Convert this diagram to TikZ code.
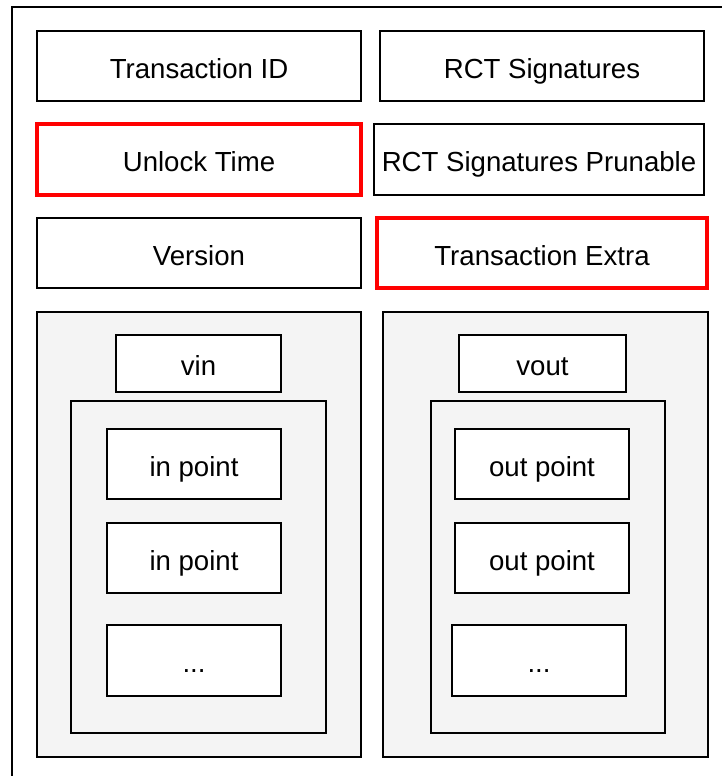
\documentclass[tikz,border=0pt]{standalone}
\usepackage{fontspec}
\setmainfont{Liberation Sans}
\definecolor{groupgray}{HTML}{F4F4F4}
\definecolor{alertred}{HTML}{FF0000}
\tikzset{
  field/.style={draw=black, line width=2pt, fill=white, rectangle, inner sep=0pt,
    outer sep=0pt, anchor=north west, align=center,
    font=\fontsize{27.6}{32}\selectfont, text height=26pt, text depth=2pt},
  flagged/.style={field, draw=alertred, line width=3.2pt},
  group/.style={draw=black, line width=2pt, fill=groupgray, rectangle,
    inner sep=0pt, outer sep=0pt, anchor=north west}
}
\begin{document}
\begin{tikzpicture}[x=1pt, y=-1pt]
  \fill[white] (0,0) rectangle (722,776);
  \clip (0,0) rectangle (722,776);
  % enclosing transaction frame (runs off the right and bottom edges)
  \draw[line width=2pt] (11.5,7.3) rectangle (760,800);

  % header fields
  \node[field, minimum width=324pt, minimum height=70pt] (txid) at (37,31) {Transaction ID};
  \node[flagged, minimum width=324pt, minimum height=71pt] (unlock) at (37,124) {Unlock Time};
  \node[field, minimum width=324pt, minimum height=70pt] (version) at (37,218) {Version};
  \node[field, minimum width=324pt, minimum height=70pt] (rct) at (380,31) {RCT Signatures};
  \node[field, minimum width=330pt, minimum height=71pt] (rctprun) at (374,124) {RCT Signatures Prunable};
  \node[flagged, minimum width=330pt, minimum height=70pt] (extra) at (377,218) {Transaction Extra};

  % inputs
  \node[group, minimum width=324pt, minimum height=445pt] (ingroup) at (37,312) {};
  \node[field, minimum width=165pt, minimum height=57pt] (vin) at (116,335) {vin};
  \node[group, minimum width=255pt, minimum height=332pt] (inlist) at (71,401) {};
  \node[field, minimum width=174pt, minimum height=70pt] (inpa) at (107,429) {in point};
  \node[field, minimum width=174pt, minimum height=70pt] (inpb) at (107,523) {in point};
  \node[field, minimum width=174pt, minimum height=71pt] (inmore) at (107,625) {...};

  % outputs
  \node[group, minimum width=325pt, minimum height=445pt] (outgroup) at (383,312) {};
  \node[field, minimum width=167pt, minimum height=57pt] (vout) at (459,335) {vout};
  \node[group, minimum width=234pt, minimum height=332pt] (outlist) at (431,401) {};
  \node[field, minimum width=174pt, minimum height=70pt] (outpa) at (455,429) {out point};
  \node[field, minimum width=174pt, minimum height=70pt] (outpb) at (455,523) {out point};
  \node[field, minimum width=174pt, minimum height=71pt] (outmore) at (452,625) {...};
\end{tikzpicture}
\end{document}
